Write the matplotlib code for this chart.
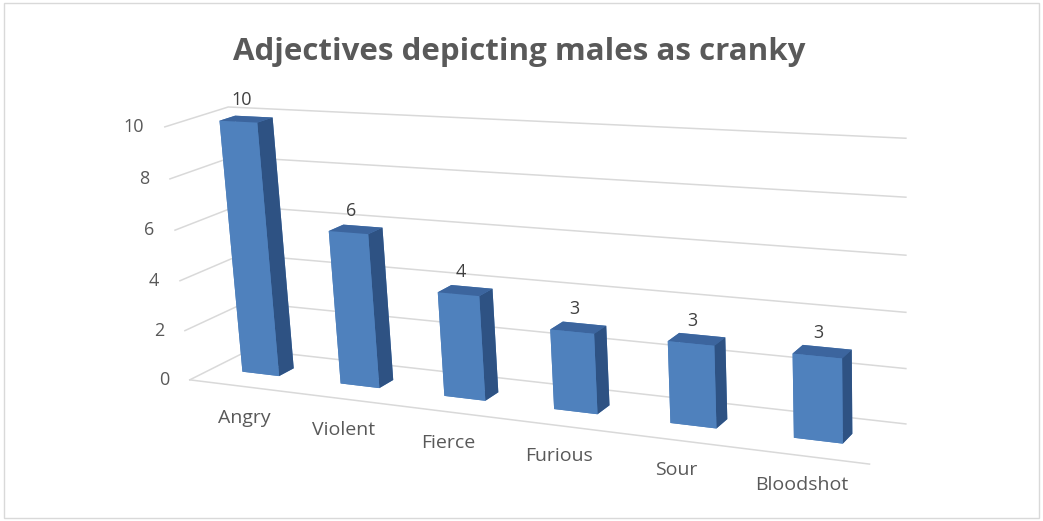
import matplotlib
matplotlib.use("Agg")
import matplotlib.pyplot as plt
from matplotlib.patches import Rectangle
from mpl_toolkits.mplot3d import proj3d
import numpy as np

categories = ["Angry", "Violent", "Fierce", "Furious", "Sour", "Bloodshot"]
counts = [10, 6, 4, 3, 3, 3]
z_ticks = [0, 2, 4, 6, 8, 10]

FONT = "Open Sans"
TEXT = "#595959"
GRID = "#D9D9D9"
FRONT = "#4F81BD"
SIDE = "#2E5283"
TOP = "#3C659E"

W, H = 1043, 521
fig = plt.figure(figsize=(W / 100, H / 100), dpi=100)
fig.patches.append(Rectangle((0.004, 0.006), 0.992, 0.988, transform=fig.transFigure,
                             fill=False, edgecolor="#D9D9D9", linewidth=1))

fig.text(0.498, 0.90, "Adjectives depicting males as cranky", ha="center", va="center",
         fontsize=22.5, fontweight="bold", color=TEXT, family=FONT)

# 3D axes need a square box; make it as wide as the figure and let it overhang vertically
ax = fig.add_axes([-0.016, -0.543, 1.0, 2.0], projection="3d", computed_zorder=False)
ax.set_proj_type("persp", focal_length=0.35)
ax.view_init(elev=15, azim=-62, roll=3)

x0, x1 = -0.5, len(categories) - 0.5
y0, y1 = 0.0, 1.0
ax.set_xlim(x0, x1)
ax.set_ylim(y0, y1)
ax.set_zlim(0, 10)
ax.set_box_aspect((6.0, 0.9, 2.2), zoom=0.76)
ax.set_axis_off()

# walls: horizontal gridlines on the side and back walls, plus floor front edge
for z in z_ticks:
    ax.plot([x0, x0, x1], [y0, y1, y1], [z, z, z], color=GRID, lw=1.1, zorder=1)
ax.plot([x0, x1], [y0, y0], [0, 0], color=GRID, lw=1.1, zorder=1)

# bars
bw, bd = 0.38, 0.25
xs = np.arange(len(categories)) - bw / 2
ys = np.full(len(categories), 0.5 - bd / 2)
face_colors = []
for _ in categories:
    # bottom, top, front(-y), back(+y), left(-x), right(+x)
    face_colors += [FRONT, TOP, FRONT, FRONT, FRONT, SIDE]
ax.bar3d(xs, ys, np.zeros(len(categories)), bw, bd, counts,
         color=face_colors, shade=False, zorder=3)

fig.canvas.draw()


def screen(x, y, z):
    """Project a data point of the 3D axes to figure-fraction coordinates."""
    px, py, _ = proj3d.proj_transform(x, y, z, ax.get_proj())
    disp = ax.transData.transform((px, py))
    return fig.transFigure.inverted().transform(disp)


for z in z_ticks:
    fx, fy = screen(x0, y0, z)
    fig.text(fx - 0.02, fy, str(z), ha="right", va="center",
             fontsize=13, color=TEXT, family=FONT)

for i, v in enumerate(counts):
    fx, fy = screen(i, 0.5, v)
    fig.text(fx - 0.004, fy + 0.036, str(v), ha="center", va="center",
             fontsize=13, color="#404040", family=FONT)
    fx, fy = screen(i, 0.5 - bd / 2, 0)
    fig.text(fx - 0.016, fy - 0.085, categories[i], ha="center", va="center",
             fontsize=14, color=TEXT, family=FONT)

fig.savefig("out.png", dpi=100)
